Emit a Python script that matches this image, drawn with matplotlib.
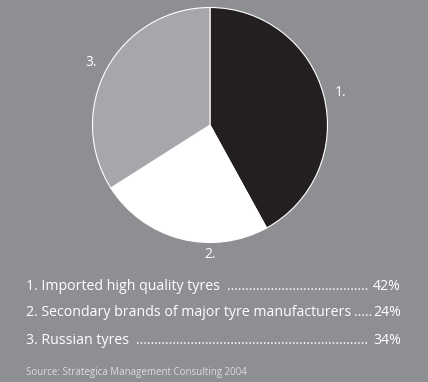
import matplotlib
matplotlib.use("Agg")
import matplotlib.pyplot as plt

labels = ["1.", "2.", "3."]
values = [42, 24, 34]
colors = ["#231f20", "#ffffff", "#a7a6ab"]
legend_texts = ["1. Imported high quality tyres",
                "2. Secondary brands of major tyre manufacturers",
                "3. Russian tyres"]
legend_pcts = ["42%", "24%", "34%"]
source = "Source: Strategica Management Consulting 2004"

BG = "#8e8f93"
W, H = 428, 382
fig = plt.figure(figsize=(W/100, H/100), dpi=100, facecolor=BG)
plt.rcParams['font.family'] = ['Open Sans', 'DejaVu Sans']

cx, cy, r = 210, 125, 117.5
ax = fig.add_axes([(cx-r)/W, (H-cy-r)/H, 2*r/W, 2*r/H])
ax.set_facecolor(BG)
wedges, texts = ax.pie(values, labels=labels, colors=colors, startangle=90,
                       counterclock=False, labeldistance=1.1,
                       wedgeprops=dict(edgecolor="white", linewidth=0.8),
                       textprops=dict(color="white", fontsize=10))
texts[1].set_position((0, -1.1))
texts[1].set_ha("center")
texts[1].set_va("center")
ax.set_xlim(-1, 1)
ax.set_ylim(-1, 1)
ax.set_aspect("equal")
ax.axis("off")

fig.canvas.draw()
renderer = fig.canvas.get_renderer()
x0, x1 = 26, 401
ys = [286, 313, 340]
gaps = [(5, 5), (1, 1), (5, 5)]
fs = 10.2
for t, p, y, (gl, gr) in zip(legend_texts, legend_pcts, ys, gaps):
    tl = fig.text(x0/W, 1-y/H, t, color="white", fontsize=fs, ha="left", va="center")
    tp = fig.text(x1/W, 1-y/H, p, color="white", fontsize=fs, ha="right", va="center")
    bl = tl.get_window_extent(renderer)
    bp = tp.get_window_extent(renderer)
    gap_l = bl.x1 + gl
    gap_r = bp.x0 - gr
    dot = fig.text(0, 0, ".", fontsize=fs)
    dw = dot.get_window_extent(renderer).width
    dot.remove()
    n = max(int((gap_r - gap_l) / dw), 0)
    fig.text(gap_r/W, 1-y/H, "." * n, color="white", fontsize=fs, ha="right", va="center")

fig.text(x0/W, 1-372/H, source, color="#dcdcdc", fontsize=7, ha="left", va="center")

fig.savefig("out.png", dpi=100, facecolor=BG)
